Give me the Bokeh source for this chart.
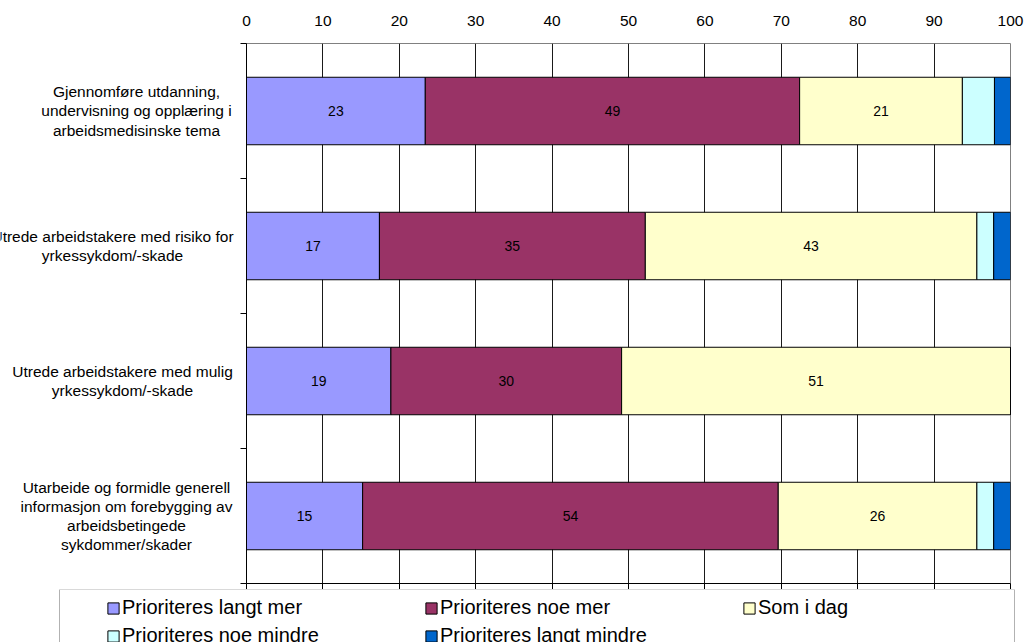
from bokeh.plotting import figure
from bokeh.layouts import column, row
from bokeh.models import (Range1d, FixedTicker, LinearAxis, Legend,
                          LegendItem, ColumnDataSource, BoxAnnotation)
from bokeh.core.properties import value
from bokeh.embed import file_html
from bokeh.resources import INLINE

# --- data -------------------------------------------------------------
categories = [
    "Gjennomføre utdanning,\nundervisning og opplæring i\narbeidsmedisinske tema",
    "Utrede arbeidstakere med risiko for\nyrkessykdom/-skade",
    "Utrede arbeidstakere med mulig\nyrkessykdom/-skade",
    "Utarbeide og formidle generell\ninformasjon om forebygging av\narbeidsbetingede\nsykdommer/skader",
]
series_names = [
    "Prioriteres langt mer",
    "Prioriteres noe mer",
    "Som i dag",
    "Prioriteres noe mindre",
    "Prioriteres langt mindre",
]
langt_mer = [23.4, 17.4, 18.9, 15.2]
noe_mer = [49.0, 34.8, 30.2, 54.4]
som_i_dag = [21.3, 43.4, 50.9, 26.0]
noe_mindre = [4.2, 2.2, 0.0, 2.2]
langt_mindre = [2.1, 2.2, 0.0, 2.2]
x_ticks = [0, 10, 20, 30, 40, 50, 60, 70, 80, 90, 100]

series = [langt_mer, noe_mer, som_i_dag, noe_mindre, langt_mindre]
colors = ["#9999FF", "#993366", "#FFFFCC", "#CCFFFF", "#0066CC"]
labelled_series = 3  # value labels on the three large segments

# --- geometry ---------------------------------------------------------
W, H = 1031, 642
LABEL_W = 236          # width of the category-label strip
CHART_H = 589          # chart block height (legend box starts below it)
FRAME_TOP, FRAME_RIGHT_GAP, AXIS_GAP = 43, 21, 10
FONT = "Liberation Sans"
label_centers = [136, 112, 122, 126]   # x of each label block in the strip

n = len(categories)
ys = [i + 0.5 for i in range(n)]
y_range = Range1d(n, 0)

# --- main chart -------------------------------------------------------
p = figure(width=W - LABEL_W, height=CHART_H, output_backend="svg",
           toolbar_location=None, x_range=Range1d(0, 100), y_range=y_range,
           x_axis_location="above",
           min_border_left=AXIS_GAP, min_border_right=FRAME_RIGHT_GAP,
           min_border_top=FRAME_TOP, min_border_bottom=6)
p.outline_line_color = "#808080"

xa = p.xaxis[0]
xa.ticker = FixedTicker(ticks=x_ticks)
xa.axis_line_color = None
xa.major_tick_line_color = None
xa.major_tick_out = 0
xa.major_tick_in = 0
xa.minor_tick_line_color = None
xa.major_label_standoff = 18
xa.major_label_text_font = FONT
xa.major_label_text_font_size = "15.5px"
xa.major_label_text_color = "black"

# bottom edge: black line with short tick marks, no labels
bx = LinearAxis(ticker=FixedTicker(ticks=[], minor_ticks=x_ticks),
                major_tick_line_color=None,
                minor_tick_in=0, minor_tick_out=6,
                minor_tick_line_color="black", axis_line_color="black")
p.add_layout(bx, "below")

# category axis: tick marks at the row boundaries only
ya = p.yaxis[0]
ya.ticker = FixedTicker(ticks=[], minor_ticks=list(range(n + 1)))
ya.major_tick_line_color = None
ya.minor_tick_in = 0
ya.minor_tick_out = 6
ya.minor_tick_line_color = "black"
ya.axis_line_color = "black"

p.xgrid.ticker = FixedTicker(ticks=x_ticks)
p.xgrid.grid_line_color = "#1a1a1a"
p.xgrid.grid_line_width = 1
p.ygrid.visible = False

cum = [0.0] * n
for j, vals in enumerate(series):
    left = cum[:]
    right = [a + b for a, b in zip(cum, vals)]
    src = ColumnDataSource(dict(y=ys, left=left, right=right))
    p.hbar(y="y", left="left", right="right", height=0.5, source=src,
           fill_color=colors[j], line_color="black", line_width=1)
    if j < labelled_series:
        centers = [a + b / 2 for a, b in zip(left, vals)]
        texts = [str(int(round(v))) for v in vals]
        p.text(x=centers, y=ys, text=texts, text_align="center",
               text_baseline="middle", text_font=value(FONT),
               text_font_size="14px", text_color="black")
    cum = right

# --- category labels strip -------------------------------------------
lab = figure(width=LABEL_W, height=CHART_H, output_backend="svg",
             toolbar_location=None, x_range=Range1d(0, LABEL_W),
             y_range=y_range, x_axis_type=None, y_axis_type=None,
             min_border_left=0, min_border_right=0,
             min_border_top=FRAME_TOP, min_border_bottom=6)
lab.outline_line_color = None
lab.grid.visible = False
lab.text(x=label_centers, y=ys, text=categories, text_align="center",
         text_baseline="middle", text_font=value(FONT),
         text_font_size="15.5px", text_color="black", text_line_height=1.13)

# --- legend strip -----------------------------------------------------
LEG_H = H - CHART_H
leg = figure(width=W, height=LEG_H, output_backend="svg",
             toolbar_location=None, x_range=Range1d(0, W),
             y_range=Range1d(LEG_H, 0), x_axis_type=None, y_axis_type=None,
             min_border=0)
leg.outline_line_color = None
leg.grid.visible = False
nan = float("nan")
items = []
for name, c in zip(series_names, colors):
    # swatch-only renderer: one empty (NaN) row, so nothing is drawn in the strip
    r = leg.hbar(y=[nan], left=[nan], right=[nan], height=1, fill_color=c,
                 line_color="black", line_width=1)
    items.append(LegendItem(label=name, renderers=[r]))
leg.add_layout(BoxAnnotation(left=59, right=1014, top=0, bottom=LEG_H + 40,
                             fill_alpha=0, line_color="black", line_width=1))
legend = Legend(items=items, orientation="horizontal", ncols=3,
                location=(106, -5),
                glyph_width=14, glyph_height=14, label_standoff=2,
                spacing=5, label_width=297, padding=5, margin=0,
                label_text_font=FONT, label_text_font_size="20px",
                label_text_color="black",
                border_line_color=None, background_fill_alpha=0)
leg.add_layout(legend, "center")

layout = column(row(lab, p, spacing=0), leg, spacing=0)
open("out.html", "w").write(file_html(layout, INLINE))
